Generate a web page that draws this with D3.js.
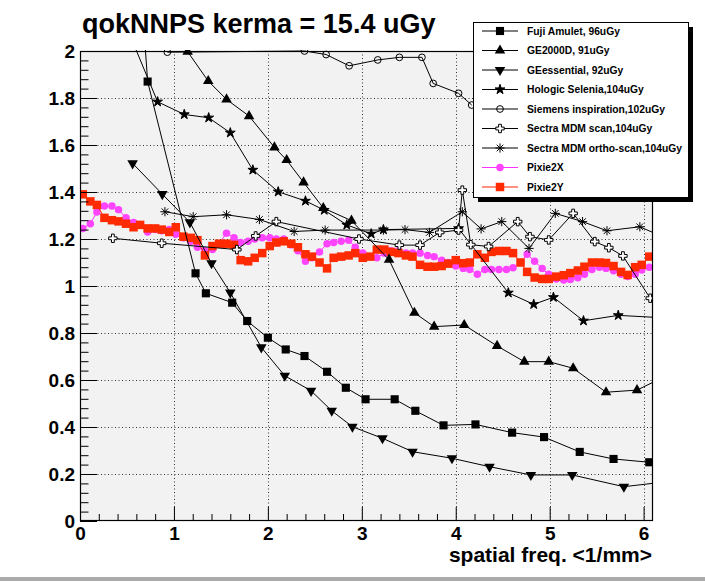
<!DOCTYPE html>
<html><head><meta charset="utf-8">
<script src="https://cdn.jsdelivr.net/npm/d3@7"></script>
<style>
html,body{margin:0;padding:0;background:#fff;}
svg{display:block;font-family:"Liberation Sans",Arial,Helvetica,sans-serif;}
</style></head><body>
<svg id="c" width="705" height="582"></svg>
<script>
// ---- chart data ----
const chartTitle = "qokNNPS kerma = 15.4 uGy";
const xTitle = "spatial freq. <1/mm>";
const xMajor = [0, 1, 2, 3, 4, 5, 6];
const yMajor = [0, 0.2, 0.4, 0.6, 0.8, 1, 1.2, 1.4, 1.6, 1.8, 2];

const fujiX = [0.48,0.72,1.23,1.34,1.62,1.78,2.00,2.19,2.39,2.63,2.83,3.04,3.35,3.57,3.87,4.21,4.60,4.94,5.32,5.68,6.06];
const fujiY = [3.23,1.87,1.054,0.969,0.929,0.851,0.78,0.73,0.702,0.635,0.567,0.518,0.518,0.469,0.407,0.411,0.376,0.357,0.294,0.264,0.25];

const ge2000X = [1.146,1.365,1.56,1.80,2.07,2.20,2.38,2.59,2.89,3.29,3.56,3.77,4.09,4.44,4.73,4.99,5.25,5.60,5.93,6.20];
const ge2000Y = [1.997,1.872,1.794,1.723,1.59,1.536,1.441,1.332,1.278,1.112,0.886,0.827,0.834,0.745,0.678,0.678,0.65,0.548,0.557,0.61];

const geEssX = [0.56,0.876,1.17,1.40,1.60,1.93,2.18,2.46,2.68,2.90,3.22,3.54,3.96,4.36,4.80,5.24,5.79,6.20];
const geEssY = [1.522,1.391,1.271,1.097,0.972,0.739,0.618,0.554,0.469,0.401,0.352,0.295,0.267,0.231,0.196,0.196,0.146,0.165];

const hologicX = [0.55,0.826,1.11,1.37,1.60,1.84,2.11,2.40,2.60,2.84,3.10,3.23,4.03,4.56,4.83,5.04,5.36,5.73,6.20];
const hologicY = [2.05,1.784,1.73,1.716,1.652,1.494,1.401,1.362,1.323,1.26,1.222,1.24,1.245,0.971,0.922,0.952,0.852,0.875,0.865];

const siemensX = [0.93,2.39,2.62,2.865,3.17,3.40,3.64,3.76,4.03,4.17];
const siemensY = [1.995,2.0,1.985,1.937,1.962,1.973,1.973,1.862,1.82,1.77];

const sectraScanX = [0.35,0.87,1.67,1.87,2.09,2.97,3.40,3.62,3.83,4.03,4.07,4.16,4.35,4.66,4.79,4.99,5.25,5.48,5.63,5.78,6.07];
const sectraScanY = [1.203,1.182,1.155,1.213,1.274,1.2,1.174,1.174,1.228,1.238,1.408,1.176,1.168,1.274,1.21,1.196,1.309,1.189,1.163,1.128,0.948];

const sectraOrthoX = [0.904,1.205,1.56,1.91,2.28,2.61,3.23,3.46,3.72,4.07,4.27,4.49,4.78,5.06,5.35,5.61,5.96,6.20];
const sectraOrthoY = [1.316,1.295,1.303,1.283,1.232,1.238,1.238,1.24,1.228,1.316,1.243,1.274,1.16,1.309,1.274,1.235,1.252,1.21];

const pixieX = [0.03,0.11,0.18,0.26,0.34,0.41,0.49,0.57,0.64,0.72,0.80,0.87,0.95,1.02,1.10,1.18,1.25,1.33,1.41,1.48,
  1.56,1.64,1.71,1.79,1.86,1.94,2.02,2.09,2.17,2.25,2.32,2.40,2.47,2.55,2.63,2.70,2.78,2.86,2.93,3.01,
  3.09,3.16,3.24,3.31,3.39,3.47,3.54,3.62,3.70,3.77,3.85,3.92,4.00,4.08,4.15,4.23,4.31,4.38,4.46,4.54,
  4.61,4.69,4.76,4.84,4.92,4.99,5.07,5.15,5.22,5.30,5.37,5.45,5.53,5.60,5.68,5.76,5.83,5.91,5.98,6.06];
const pixie2X = [1.245,1.265,1.315,1.34,1.34,1.325,1.29,1.27,1.26,1.23,1.24,1.235,1.24,1.22,1.205,1.19,1.165,1.15,1.155,1.18,
  1.225,1.205,1.185,1.19,1.2,1.205,1.205,1.2,1.2,1.175,1.15,1.105,1.12,1.145,1.18,1.185,1.19,1.195,1.165,1.14,
  1.125,1.12,1.14,1.15,1.15,1.14,1.14,1.14,1.13,1.125,1.11,1.1,1.085,1.075,1.07,1.05,1.07,1.07,1.07,1.07,
  1.078,1.1,1.135,1.105,1.075,1.05,1.03,1.026,1.028,1.035,1.05,1.07,1.08,1.075,1.065,1.05,1.04,1.05,1.068,1.08];
const pixie2Y = [1.39,1.36,1.345,1.29,1.28,1.275,1.265,1.25,1.26,1.245,1.245,1.24,1.23,1.25,1.21,1.205,1.195,1.13,1.17,1.18,
  1.18,1.175,1.11,1.105,1.12,1.14,1.17,1.185,1.19,1.18,1.165,1.135,1.125,1.10,1.075,1.12,1.125,1.13,1.14,1.12,
  1.125,1.155,1.155,1.145,1.14,1.13,1.125,1.09,1.082,1.082,1.085,1.095,1.11,1.097,1.10,1.135,1.12,1.145,1.149,1.149,
  1.14,1.10,1.06,1.036,1.03,1.03,1.04,1.046,1.055,1.066,1.082,1.10,1.10,1.098,1.085,1.06,1.047,1.08,1.09,1.125];

const seriesNames = ["Fuji Amulet, 96uGy","GE2000D, 91uGy","GEessential, 92uGy","Hologic Selenia,104uGy",
  "Siemens inspiration,102uGy","Sectra MDM scan,104uGy","Sectra MDM ortho-scan,104uGy","Pixie2X","Pixie2Y"];

// ---- layout ----
const svg = d3.select("#c");
const W = 705, H = 582;
const plot = {left: 80, right: 653, top: 51, bottom: 521};
const x = d3.scaleLinear().domain([0, 6.1]).range([plot.left, plot.right]);
const y = d3.scaleLinear().domain([0, 2]).range([plot.bottom, plot.top]);

svg.append("rect").attr("width", W).attr("height", H).attr("fill", "#fff");
svg.append("rect").attr("x", 0).attr("y", 577).attr("width", W).attr("height", 4).attr("fill", "#ababab");

// plot frame fill
svg.append("rect").attr("x", plot.left).attr("y", plot.top)
  .attr("width", plot.right - plot.left).attr("height", plot.bottom - plot.top)
  .attr("fill", "#f2f2f2");

// dotted grid
const grid = svg.append("g").attr("stroke", "#333").attr("stroke-width", 1).attr("stroke-dasharray", "1,2.5");
grid.selectAll("line.gx").data(xMajor.filter(d => d > 0)).join("line")
  .attr("x1", d => Math.round(x(d)) + 0.5).attr("x2", d => Math.round(x(d)) + 0.5)
  .attr("y1", plot.top).attr("y2", plot.bottom);
grid.selectAll("line.gy").data(yMajor.filter(d => d > 0 && d < 2)).join("line")
  .attr("y1", d => Math.round(y(d)) + 0.5).attr("y2", d => Math.round(y(d)) + 0.5)
  .attr("x1", plot.left).attr("x2", plot.right);

// ---- markers ----
const sym = (type, size) => d3.symbol().type(type).size(size)();
const openCross = (() => { const s = 4.2, w = 1.4;
  return `M${-w},${-s}H${w}V${-w}H${s}V${w}H${w}V${s}H${-w}V${w}H${-s}V${-w}H${-w}Z`; })();
const asterisk = (() => { const s = 4.6, d = 3.3;
  return `M${-s},0H${s}M0,${-s}V${s}M${-d},${-d}L${d},${d}M${-d},${d}L${d},${-d}`; })();

const styles = [
  {x: fujiX, y: fujiY, line: "#000", path: sym(d3.symbolSquare, 66), fill: "#000", stroke: "none", rot: 0},
  {x: ge2000X, y: ge2000Y, line: "#000", path: sym(d3.symbolTriangle, 48), fill: "#000", stroke: "none", rot: 0},
  {x: geEssX, y: geEssY, line: "#000", path: sym(d3.symbolTriangle, 48), fill: "#000", stroke: "none", rot: 180},
  {x: hologicX, y: hologicY, line: "#000", path: sym(d3.symbolStar, 30), fill: "#000", stroke: "#000", rot: 0},
  {x: siemensX, y: siemensY, line: "#000", path: sym(d3.symbolCircle, 36), fill: "none", stroke: "#000", rot: 0},
  {x: sectraScanX, y: sectraScanY, line: "#000", path: openCross, fill: "#fff", stroke: "#000", rot: 0},
  {x: sectraOrthoX, y: sectraOrthoY, line: "#000", path: asterisk, fill: "none", stroke: "#000", rot: 0},
  {x: pixieX, y: pixie2X, line: "#ff33ff", path: sym(d3.symbolCircle, 44), fill: "#ff44ff", stroke: "none", rot: 0},
  {x: pixieX, y: pixie2Y, line: "#ff2200", path: sym(d3.symbolSquare, 72), fill: "#ff2a00", stroke: "none", rot: 0}
];

svg.append("clipPath").attr("id", "frameClip").append("rect")
  .attr("x", plot.left).attr("y", plot.top - 1)
  .attr("width", plot.right - plot.left).attr("height", plot.bottom - plot.top + 1);

const plotG = svg.append("g").attr("clip-path", "url(#frameClip)");
const lineGen = d3.line().x(d => x(d[0])).y(d => y(d[1]));

// Pixie series underneath, reference detectors on top
const drawOrder = [7, 8, 0, 1, 2, 3, 4, 5, 6];
drawOrder.forEach(i => {
  const s = styles[i];
  const pts = s.x.map((v, k) => [v, s.y[k]]);
  const g = plotG.append("g");
  g.append("path").attr("d", lineGen(pts)).attr("fill", "none")
    .attr("stroke", s.line).attr("stroke-width", 1);
  g.selectAll("path.m").data(pts.filter(p => p[1] <= 2.005)).join("path")
    .attr("class", "m")
    .attr("d", s.path)
    .attr("transform", p => `translate(${x(p[0])},${y(p[1])}) rotate(${s.rot})`)
    .attr("fill", s.fill).attr("stroke", s.stroke).attr("stroke-width", 1);
});

// ---- axes ----
const fmt = d => String(+d.toFixed(2));
const xAxis = svg.append("g").attr("transform", `translate(0,${plot.bottom})`)
  .call(d3.axisBottom(x).tickValues(xMajor).tickSize(-14).tickPadding(6).tickFormat(fmt));
const xMinor = svg.append("g").attr("transform", `translate(0,${plot.bottom})`)
  .call(d3.axisBottom(x).tickValues(d3.range(0, 6.11, 0.2).filter(v => Math.abs(v - Math.round(v)) > 0.01))
    .tickSize(-7).tickFormat(""));
const yAxis = svg.append("g").attr("transform", `translate(${plot.left},0)`)
  .call(d3.axisLeft(y).tickValues(yMajor).tickSize(-17).tickPadding(5).tickFormat(fmt));
const yMinorVals = d3.range(0, 2.001, 0.04).filter(v => Math.abs(v / 0.2 - Math.round(v / 0.2)) > 0.01);
const yMinor = svg.append("g").attr("transform", `translate(${plot.left},0)`)
  .call(d3.axisLeft(y).tickValues(yMinorVals).tickSize(-8.5).tickFormat(""));

[xAxis, xMinor, yAxis, yMinor].forEach(g => {
  g.select(".domain").remove();
  g.selectAll(".tick line").attr("stroke", "#000").attr("stroke-width", 1);
  g.selectAll("text").attr("fill", "#000").style("font-size", "19px").style("font-weight", "bold")
    .style("font-family", '"Liberation Sans", Arial, sans-serif');
});
yAxis.selectAll(".tick text").attr("dy", "0.36em");

// frame
svg.append("rect").attr("x", plot.left + 0.5).attr("y", plot.top + 0.5)
  .attr("width", plot.right - plot.left - 1).attr("height", plot.bottom - plot.top - 1)
  .attr("fill", "none").attr("stroke", "#000").attr("stroke-width", 1.2);

// titles
svg.append("text").attr("x", 82).attr("y", 33).text(chartTitle)
  .style("font-size", "27px").style("font-weight", "bold").attr("fill", "#000");
svg.append("text").attr("x", 652).attr("y", 562).attr("text-anchor", "end").text(xTitle)
  .style("font-size", "21px").style("font-weight", "bold").attr("fill", "#000");

// ---- legend ----
const lg = {x: 473, y: 22, w: 215, h: 175};
svg.append("rect").attr("x", lg.x + 5).attr("y", lg.y + 5).attr("width", lg.w).attr("height", lg.h).attr("fill", "#000");
svg.append("rect").attr("x", lg.x + 0.5).attr("y", lg.y + 0.5).attr("width", lg.w).attr("height", lg.h)
  .attr("fill", "#fff").attr("stroke", "#000").attr("stroke-width", 1);
const rowY = d3.scalePoint().domain(d3.range(seriesNames.length)).range([31, 187]);
seriesNames.forEach((name, i) => {
  const s = styles[i];
  const cy = rowY(i);
  const g = svg.append("g");
  g.append("line").attr("x1", 482).attr("x2", 518).attr("y1", cy).attr("y2", cy)
    .attr("stroke", s.line).attr("stroke-width", 1);
  g.append("path").attr("d", s.path).attr("transform", `translate(500,${cy}) rotate(${s.rot})`)
    .attr("fill", s.fill).attr("stroke", s.stroke).attr("stroke-width", 1);
  g.append("text").attr("x", 527).attr("y", cy + 3.8).text(name)
    .style("font-size", "10.3px").style("font-weight", "bold").attr("fill", "#000");
});
</script>
</body></html>
